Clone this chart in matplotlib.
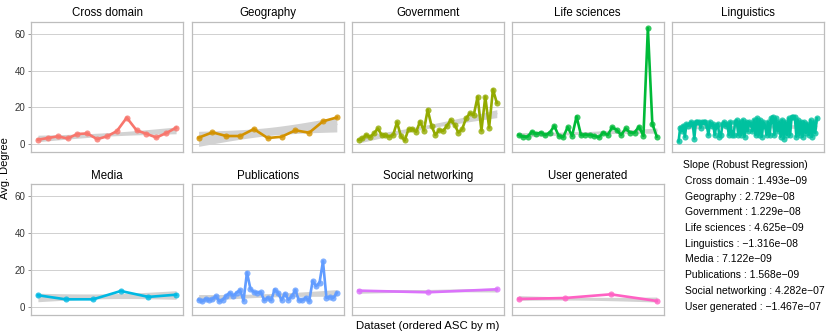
import numpy as np
import matplotlib
matplotlib.use("Agg")
import matplotlib.pyplot as plt

plt.rcParams['font.family'] = ['Liberation Sans', 'DejaVu Sans']

# values (avg. degree per dataset, ordered by m)
cross_domain = [2.4, 3.3, 4.2, 3.1, 5.5, 5.8, 2.7, 4.2, 7.1, 14.4, 7.5, 5.6, 3.6, 6.0, 8.9]
geography = [3.5, 6.4, 4.4, 4.4, 8.2, 3.3, 4.0, 7.5, 6.2, 12.4, 14.5]
government = [2.3, 3.1, 5.0, 3.8, 5.9, 8.5, 5.0, 4.7, 4.1, 5.0, 11.9, 4.5, 2.0, 8.1,
              8.3, 6.7, 12.3, 7.4, 18.7, 9.9, 5.0, 7.7, 7.2, 9.9, 13.2, 10.5, 6.3,
              8.3, 14.1, 16.8, 15.9, 25.8, 7.4, 25.8, 9.0, 29.7, 22.5]
life_sciences = [5.0, 4.1, 4.1, 6.8, 5.6, 6.3, 5.0, 6.3, 9.9, 4.5, 3.8, 9.2, 4.5, 15.0,
                 4.9, 5.2, 5.0, 4.5, 3.8, 6.3, 5.0, 9.2, 7.7, 5.0, 8.5, 6.3, 6.3, 9.5,
                 4.5, 63.2, 11.0, 4.1]
linguistics = [1.5, 9, 7, 10, 4, 11, 10, 11, 12, 11, 3, 12, 12, 12, 9, 12, 12, 12, 10, 5,
               12, 10, 11, 5, 10, 11, 4, 5, 11, 12, 10, 11, 5, 12, 5, 5, 12, 13, 5, 12,
               5, 13, 4, 12, 7, 12, 11, 7, 13, 5, 14, 5, 13, 4, 12, 10, 5, 12, 5, 14,
               15, 5, 14, 7, 12, 4, 13, 3, 12, 5, 14, 5, 15, 15, 15, 4, 13, 5, 12, 4,
               12, 6, 11, 5, 13, 4, 12, 6, 14]
media = [6.4, 4.2, 4.2, 8.7, 5.5, 6.7]
publications = [4.0, 3.1, 4.4, 3.7, 4.4, 5.9, 3.1, 4.0, 6.2, 7.7, 6.2, 7.7, 9.2, 3.5,
                18.7, 9.9, 8.1, 7.7, 8.1, 3.7, 5.1, 3.7, 9.5, 7.7, 3.7, 7.3, 4.0, 5.9,
                9.2, 3.7, 3.7, 5.1, 3.1, 14.1, 11.4, 13.2, 24.8, 5.0, 5.5, 5.0, 7.7]
social_networking = [8.9, 8.0, 9.6]
user_generated = [4.4, 4.9, 6.9, 3.3]

categories = ["Cross domain", "Geography", "Government", "Life sciences", "Linguistics",
              "Media", "Publications", "Social networking", "User generated"]
series = [cross_domain, geography, government, life_sciences, linguistics,
          media, publications, social_networking, user_generated]
slopes = ["1.493e\u221209", "2.729e\u221208", "1.229e\u221208", "4.625e\u221209",
          "\u22121.316e\u221208", "7.122e\u221209", "1.568e\u221209", "4.282e\u221207",
          "\u22121.467e\u221207"]
colors = ["#F8766D", "#D39200", "#93AA00", "#00BA38", "#00C19F",
          "#00B9E3", "#619CFF", "#DB72FB", "#FF61C3"]


def huber_fit(x, y, k=1.345, iters=30):
    X = np.column_stack([np.ones_like(x), x])
    w = np.ones_like(y)
    s = 1.0
    for _ in range(iters):
        W = np.diag(w)
        beta = np.linalg.solve(X.T @ W @ X, X.T @ W @ y)
        r = y - X @ beta
        s = np.median(np.abs(r - np.median(r))) / 0.6745
        if s <= 1e-9:
            s = np.std(r) + 1e-9
        u = np.abs(r) / (k * s)
        w = np.where(u <= 1, 1.0, 1.0 / np.maximum(u, 1e-12))
    cov = s ** 2 * np.linalg.inv(X.T @ np.diag(w) @ X)
    return beta, cov


fig = plt.figure(figsize=(8.3, 3.34), dpi=100)
W, H = 830.0, 334.0
lefts = [31, 191.7, 351.7, 511.7, 671.7]
pw = 152
rows = [(22, 152), (184.3, 315)]
ylim = (-4.3, 66.5)

for i, (name, vals) in enumerate(zip(categories, series)):
    r, c = divmod(i, 5)
    top, bot = rows[r]
    ax = fig.add_axes([lefts[c] / W, 1 - bot / H, pw / W, (bot - top) / H])
    y = np.array(vals, dtype=float)
    x = np.arange(len(y), dtype=float)

    beta, cov = huber_fit(x, y)
    xs = np.linspace(x[0], x[-1], 100)
    Xs = np.column_stack([np.ones_like(xs), xs])
    fit = Xs @ beta
    se = np.sqrt(np.einsum('ij,jk,ik->i', Xs, cov, Xs))
    ax.fill_between(xs, fit - 1.96 * se, fit + 1.96 * se, color="#d2d2d2", lw=0, zorder=2)
    ax.plot(xs, fit, color="#d2d2d2", lw=1, zorder=2)

    ax.plot(x, y, color=colors[i], lw=1.9, zorder=3)
    ax.plot(x, y, 'o', color=colors[i], ms=4.4, mec='none', alpha=0.8, zorder=4)

    pad = (x[-1] - x[0]) * 0.05
    ax.set_xlim(x[0] - pad, x[-1] + pad)
    ax.set_ylim(*ylim)
    ax.set_yticks([0, 20, 40, 60])
    ax.set_xticks([])
    for yy in [0, 20, 40, 60]:
        ax.axhline(yy, color="#d0d0d0", lw=0.7, zorder=1)
    for sp in ax.spines.values():
        sp.set_color("#bdbdbd")
        sp.set_linewidth(0.9)
    if c == 0:
        ax.tick_params(axis='y', length=2.5, width=0.6, color="#888888",
                       labelsize=7, labelcolor="#333333", pad=1.5)
    else:
        ax.tick_params(axis='y', length=0, labelleft=False)
    ax.set_title(name, fontsize=8.3, pad=4)

fig.text(5 / W, 1 - 168 / H, "Avg. Degree", rotation=90, ha='center', va='center', fontsize=8)
fig.text(428 / W, 1 - 326 / H, "Dataset (ordered ASC by m)", ha='center', va='center', fontsize=8.2)

fig.text(683 / W, 1 - 165 / H, "Slope (Robust Regression)", ha='left', va='center', fontsize=7.5)
for j, (name, sl) in enumerate(zip(categories, slopes)):
    fig.text(685 / W, 1 - (181 + j * 15.7) / H, f"{name} : {sl}",
             ha='left', va='center', fontsize=7.5)

fig.savefig("out.png", dpi=100)
